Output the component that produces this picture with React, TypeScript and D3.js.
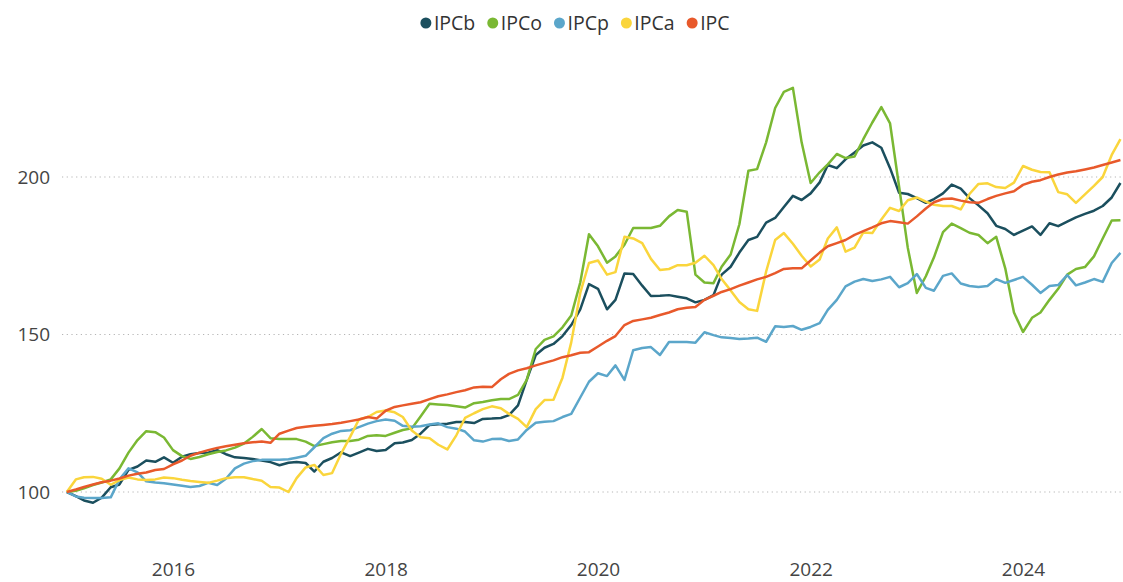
import React, { useEffect, useRef } from 'react';
import * as d3 from 'd3';

// monthly index values, Jan 2015 .. Dec 2024 (2015 = 100)
const startYear = 2015;
const seriesNames = ['IPCb', 'IPCo', 'IPCp', 'IPCa', 'IPC'];
const seriesColors = ['#1b4f5e', '#7ab833', '#5ba6ca', '#fad53c', '#e8592b'];
const yTicks = [100, 150, 200];
const xTickYears = [2016, 2018, 2020, 2022, 2024];

const ipcb = [
  100, 98.7, 97.3, 96.6, 98.2, 101.5, 102.4, 107, 108.1, 110, 109.6, 111,
  109.3, 111.2, 112, 112.4, 112.5, 113.3, 112, 111, 110.8, 110.5, 110, 109.5,
  108.5, 109.3, 109.5, 109.2, 106.5, 109.6, 110.8, 112.6, 111.4, 112.5, 113.7, 113,
  113.3, 115.5, 115.7, 116.5, 118.5, 121.3, 121.5, 121.7, 122.2, 122.2, 121.9, 123.2,
  123.3, 123.5, 124.4, 127.5, 135.6, 143.5, 145.8, 147, 149.5, 153, 158, 166,
  164.5, 158, 161, 169.4, 169.2, 165.5, 162.2, 162.3, 162.5, 162, 161.5, 160.2,
  161, 162.5, 169, 171.5, 176, 180, 181, 185.5, 187, 190.5, 194, 192.7,
  194.8, 198.3, 203.8, 202.8, 205.6, 207.8, 210, 211, 209.3, 202.8, 195, 194.6,
  193.3, 191.8, 193, 194.8, 197.6, 196.3, 193.3, 191, 188.5, 184.5, 183.5, 181.6,
  183, 184.3, 181.6, 185.3, 184.4, 185.8, 187.2, 188.3, 189.3, 190.8, 193.5, 198.1,
];
const ipco = [
  100, 100.4, 101.2, 102.2, 103, 104, 107.5, 112.5, 116.5, 119.3, 119, 117.3,
  113.3, 111.4, 110.5, 111.1, 112, 112.7, 113.2, 114.1, 115.4, 117.5, 120, 117.1,
  116.8, 116.8, 116.8, 116, 114.6, 115.2, 115.8, 116.2, 116.2, 116.6, 117.8, 118,
  117.8, 118.8, 119.7, 120.2, 124, 128, 127.8, 127.6, 127.2, 126.8, 128.2, 128.6,
  129.1, 129.5, 129.5, 130.8, 135.6, 145.4, 148.3, 149.4, 152.3, 156, 166.5, 181.8,
  178, 172.8, 174.8, 178.5, 183.8, 183.8, 183.8, 184.5, 187.5, 189.5, 189, 169,
  166.5, 166.3, 171.5, 175.4, 185, 202, 202.5, 211, 221.9, 227, 228.3, 211,
  198.1, 201.5, 204, 207.3, 206, 206.5, 212, 217.3, 222.2, 217, 197, 177.5,
  163.2, 168.5, 174.5, 182.5, 185.2, 183.8, 182.3, 181.6, 179, 181, 171, 157,
  150.8, 155.3, 157, 161, 164.5, 169, 170.8, 171.4, 174.8, 180.5, 186.2, 186.3,
];
const ipcp = [
  100, 98.6, 98.2, 98.1, 98.1, 98.3, 104, 107.5, 106.2, 103.4, 103, 102.8,
  102.4, 102, 101.6, 101.9, 102.9, 102.2, 104.2, 107.5, 109, 109.8, 110.2, 110.2,
  110.2, 110.4, 110.9, 111.5, 114.2, 117.1, 118.5, 119.4, 119.6, 120.6, 121.7, 122.5,
  123, 122.6, 121, 120.7, 120.9, 121.4, 121.8, 120.6, 120.1, 119.2, 116.4, 116,
  116.8, 116.9, 116.2, 116.7, 119.7, 122, 122.3, 122.5, 123.8, 124.8, 130, 135,
  137.7, 136.8, 140.2, 135.6, 145, 145.7, 146, 143.5, 147.6, 147.6, 147.6, 147.4,
  150.7, 149.8, 149.1, 148.9, 148.6, 148.7, 149, 147.7, 152.6, 152.4, 152.7, 151.5,
  152.4, 153.6, 157.8, 161, 165.3, 166.8, 167.6, 167, 167.5, 168.3, 165, 166.3,
  169.2, 164.8, 163.9, 168.6, 169.4, 166.2, 165.4, 165.1, 165.4, 167.6, 166.4, 167.3,
  168.3, 165.8, 163.2, 165.4, 165.7, 168.9, 165.6, 166.5, 167.6, 166.7, 172.7, 175.9,
];
const ipca = [
  100, 104, 104.7, 104.8, 104.2, 102.3, 103.8, 104.6, 104, 103.8, 104, 104.6,
  104.4, 103.9, 103.5, 103.2, 102.9, 103.6, 104.4, 104.7, 104.7, 104.1, 103.6, 101.6,
  101.4, 100, 104.4, 107.8, 108.6, 105.4, 106, 112.2, 117.5, 123, 123.8, 125.4,
  125.9, 125.3, 123.8, 119.5, 117.4, 117.1, 115, 113.5, 118, 123.5, 125, 126.3,
  127.2, 126.6, 124.8, 123.2, 120.6, 126.3, 129.2, 129.3, 136.3, 147.5, 163.2, 172.7,
  173.5, 169, 169.8, 181, 180.5, 179, 174, 170.5, 170.8, 172, 172, 172.8,
  175, 172, 167.6, 164, 160.3, 158, 157.5, 170, 180, 182.2, 178.8, 175,
  171.6, 173.8, 180.5, 184, 176.3, 177.6, 182.4, 182.2, 186.5, 190.2, 189.2, 192.6,
  193.5, 192.2, 191.2, 190.8, 190.8, 189.7, 194.6, 197.8, 198, 196.8, 196.5, 198.2,
  203.5, 202.3, 201.6, 201.5, 195.2, 194.5, 191.8, 194.5, 197.2, 200, 207, 212,
];
const ipc = [
  100, 100.8, 101.6, 102.4, 103.1, 103.6, 104.3, 105.2, 105.8, 106.2, 107, 107.3,
  108.8, 110, 111.5, 112.5, 113.3, 114, 114.5, 115, 115.5, 115.8, 116, 115.6,
  118.5, 119.5, 120.3, 120.7, 121, 121.3, 121.6, 122, 122.5, 123, 123.8, 123.3,
  125.8, 127, 127.5, 128, 128.5, 129.5, 130.4, 131, 131.7, 132.3, 133.2, 133.4,
  133.3, 135.8, 137.5, 138.6, 139.3, 140.2, 141, 141.8, 142.8, 143.4, 144.2, 144.4,
  146.2, 148, 149.5, 153, 154.3, 154.8, 155.3, 156.2, 157, 158, 158.5, 158.7,
  161, 162.3, 163.5, 164.4, 165.5, 166.5, 167.5, 168.3, 169.5, 170.8, 171, 171,
  173.5, 176, 178, 179, 180, 181.6, 182.8, 184, 185.3, 186, 185.6, 185.2,
  187.5, 190, 192, 193, 193.2, 192.5, 192, 191.8, 193, 194, 194.8, 195.5,
  197.5, 198.5, 199, 200, 200.8, 201.4, 201.8, 202.4, 203, 203.8, 204.6, 205.4,
];

export default function App() {
  const svgRef = useRef(null);

  useEffect(() => {
    const width = 1123;
    const font = "'Open Sans', 'Noto Sans', sans-serif";
    const svg = d3.select(svgRef.current);
    svg.selectAll('*').remove();

    const allSeries = [ipcb, ipco, ipcp, ipca, ipc];
    const dates = ipc.map((_, i) => new Date(startYear, i, 1));

    const x = d3.scaleTime()
      .domain([new Date(2016, 0, 1), new Date(2024, 0, 1)])
      .range([173, 1023]);
    const y = d3.scaleLinear()
      .domain([100, 200])
      .range([492, 177]);

    // gridlines
    svg.append('g')
      .selectAll('line')
      .data(yTicks)
      .join('line')
      .attr('x1', 62)
      .attr('x2', width)
      .attr('y1', d => y(d))
      .attr('y2', d => y(d))
      .attr('stroke', '#b5b5b5')
      .attr('stroke-width', 1.2)
      .attr('stroke-dasharray', '1.2,3.5');

    // y labels
    svg.append('g')
      .selectAll('text')
      .data(yTicks)
      .join('text')
      .attr('x', 50)
      .attr('y', d => y(d))
      .attr('dy', '0.35em')
      .attr('text-anchor', 'end')
      .attr('font-family', font)
      .attr('font-size', 19)
      .attr('fill', '#444')
      .text(d => d);

    // x axis
    const xAxis = svg.append('g')
      .attr('transform', 'translate(0,556)')
      .call(d3.axisBottom(x)
        .tickValues(xTickYears.map(yr => new Date(yr, 0, 1)))
        .tickFormat(d3.timeFormat('%Y'))
        .tickSize(0)
        .tickPadding(6));
    xAxis.select('.domain').remove();
    xAxis.selectAll('text')
      .attr('font-family', font)
      .attr('font-size', 19)
      .attr('fill', '#444');

    const line = d3.line()
      .x((d, i) => x(dates[i]))
      .y(d => y(d));

    svg.append('g')
      .selectAll('path')
      .data(allSeries)
      .join('path')
      .attr('fill', 'none')
      .attr('stroke', (d, i) => seriesColors[i])
      .attr('stroke-width', 2.5)
      .attr('stroke-linejoin', 'round')
      .attr('d', line);

    // legend
    const legend = svg.append('g').attr('transform', 'translate(0,23)');
    const items = legend.selectAll('g')
      .data(seriesNames)
      .join('g');
    items.append('circle')
      .attr('r', 5.5)
      .attr('fill', (d, i) => seriesColors[i]);
    items.append('text')
      .attr('x', 8)
      .attr('dy', '0.35em')
      .attr('font-family', font)
      .attr('font-size', 19.5)
      .attr('fill', '#333')
      .text(d => d);
    const widths = [];
    items.each(function () {
      widths.push(this.getBBox().width);
    });
    const gap = 12;
    const total = d3.sum(widths) + gap * (widths.length - 1);
    let cx = 575 - total / 2 + 5.5;
    items.attr('transform', (d, i) => {
      const t = `translate(${cx},0)`;
      cx += widths[i] + gap;
      return t;
    });
  }, []);

  return (
    <svg
      ref={svgRef}
      width="1123"
      height="582"
      style={{ position: 'absolute', left: 0, top: 0, background: '#fff' }}
    />
  );
}
